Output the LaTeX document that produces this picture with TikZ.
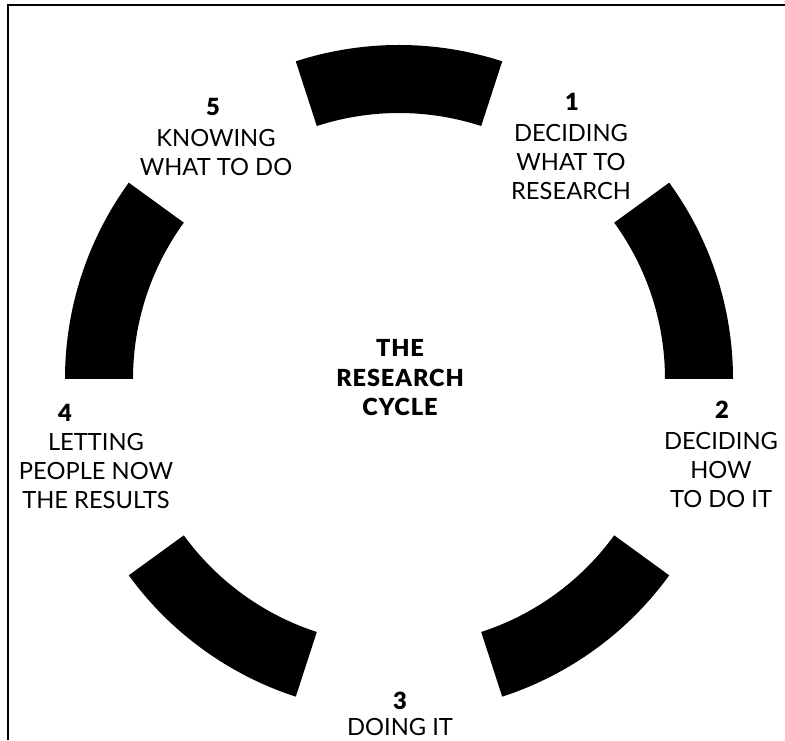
\documentclass[tikz,border=0pt]{standalone}
\usepackage{fontspec}
\setmainfont{Lato}
\newfontfamily\numfont{Lato Black}
\newfontfamily\titlefont[LetterSpace=4]{Lato Black}
\begin{document}
\begin{tikzpicture}[x=1pt,y=1pt,
  seg/.style={fill=black},
  frame/.style={line width=2pt},
  lbl/.style={inner sep=0pt, anchor=north, align=center, font=\fontsize{23.7}{29}\selectfont},
  num/.style={inner sep=0pt, font=\numfont\fontsize{23.7}{28}\selectfont},
  ttl/.style={inner sep=0pt, anchor=north, align=center, font=\titlefont\fontsize{23.5}{29.5}\selectfont}]
\useasboundingbox (0,0) rectangle (785,740);
\coordinate (fb) at (8,0);
\coordinate (fc) at (8,735);
\coordinate (fr) at (785,735);
\draw[frame] (fb) -- (fc) -- (fr);
\begin{scope}[shift={(399,361)}]
\foreach \a in {72,0,-72,-144,144} {
  \pgfmathsetmacro{\b}{\a+36}
  \fill[seg] (\a:334) arc[start angle=\a, end angle=\b, radius=334]
     -- (\b:266) arc[start angle=\b, end angle=\a, radius=266] -- cycle;
}
\end{scope}
% numbers
\node[num] (n1) at (572,638) {1};
\node[num] (n2) at (722,330) {2};
\node[num] (n3) at (400,39) {3};
\node[num] (n4) at (65,327) {4};
\node[num] (n5) at (213,633) {5};
% texts
\node[lbl] (t1) at (571,615.5) {DECIDING\\WHAT TO\\RESEARCH};
\node[lbl] (t2) at (721,307.5) {DECIDING\\HOW\\TO DO IT};
\node[lbl] (t3) at (400,21.5) {DOING IT};
\node[lbl] (t4) at (96,306.5) {LETTING\\PEOPLE NOW\\THE RESULTS};
\node[lbl] (t5) at (216,610.5) {KNOWING\\WHAT TO DO};
\node[ttl] (title) at (400,400.5) {THE\\RESEARCH\\CYCLE};
\end{tikzpicture}
\end{document}
